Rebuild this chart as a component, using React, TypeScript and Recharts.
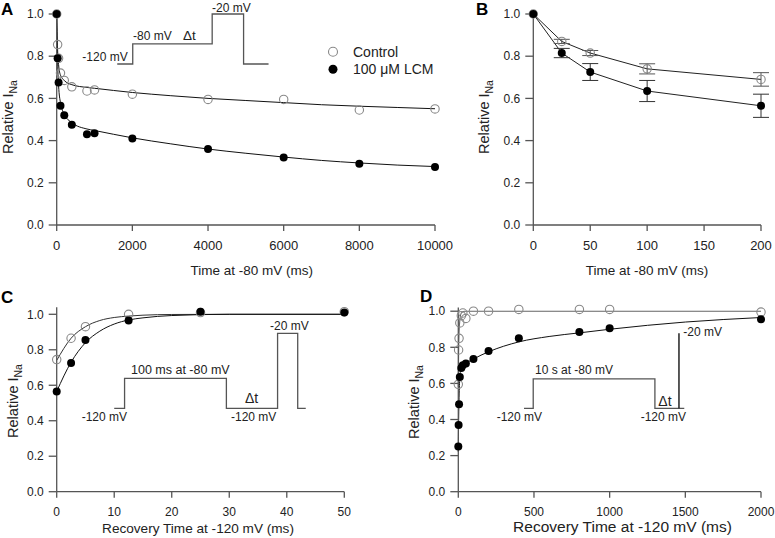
import { ComposedChart, ErrorBar, Line, Scatter, XAxis, YAxis } from "recharts";

const FONT = '"Liberation Sans", Arial, sans-serif';
const W = 775;
const H = 538;

// ---- Panel A: development of inactivation at -80 mV ----
const aTicks = [0, 2000, 4000, 6000, 8000, 10000];
const aTime = [0, 25, 50, 100, 200, 400, 800, 1000, 2000, 4000, 6000, 8000, 10000];
const aControl = [1.0, 0.855, 0.79, 0.72, 0.685, 0.655, 0.635, 0.64, 0.62, 0.595, 0.595, 0.545, 0.55];
const aLcm = [1.0, 0.79, 0.675, 0.565, 0.52, 0.475, 0.43, 0.435, 0.41, 0.36, 0.32, 0.29, 0.275];
const aFitTime = [0, 20, 50, 100, 200, 400, 800, 1000, 2000, 3000, 4000, 5000, 6000, 7000, 8000, 9000, 10000];
const aFitControl = [1.0, 0.85, 0.76, 0.71, 0.685, 0.665, 0.652, 0.648, 0.628, 0.613, 0.6, 0.59, 0.58, 0.57, 0.563, 0.557, 0.551];
const aFitLcm = [1.0, 0.8, 0.66, 0.58, 0.525, 0.485, 0.455, 0.448, 0.413, 0.385, 0.36, 0.34, 0.322, 0.306, 0.294, 0.284, 0.277];
const aProtoX = [1600, 2010, 2010, 4110, 4110, 4940, 4940, 5600];
const aProtoY = [0.763, 0.763, 0.858, 0.858, 1.0, 1.0, 0.763, 0.763];

// ---- Panel B: short pulses ----
const bTicks = [0, 50, 100, 150, 200];
const bTime = [0, 25, 50, 100, 200];
const bControl = [1.0, 0.87, 0.815, 0.74, 0.69];
const bControlErr = [0, 0.01, 0.012, 0.024, 0.032];
const bLcm = [1.0, 0.815, 0.725, 0.635, 0.565];
const bLcmErr = [0, 0.022, 0.04, 0.05, 0.055];

// ---- Panel C: recovery after 100 ms at -80 mV ----
const cTicks = [0, 10, 20, 30, 40, 50];
const cTime = [0, 2.5, 5, 12.5, 25, 50];
const cControl = [0.745, 0.865, 0.93, 1.0, 1.01, 1.015];
const cLcm = [0.565, 0.725, 0.855, 0.965, 1.015, 1.01];
const cFitTime = [0, 2.5, 5, 7.5, 10, 12.5, 15, 20, 30, 50];
const cFitControl = [0.74, 0.865, 0.93, 0.965, 0.982, 0.99, 0.995, 0.999, 1.0, 1.0];
const cFitLcm = [0.565, 0.73, 0.84, 0.905, 0.945, 0.968, 0.98, 0.993, 1.0, 1.0];
const cProtoX = [10, 11.8, 11.8, 29.5, 29.5, 38.4, 38.4, 41.9, 41.9, 43.3];
const cProtoY = [0.47, 0.47, 0.639, 0.639, 0.47, 0.47, 0.893, 0.893, 0.47, 0.47];

// ---- Panel D: recovery after 10 s at -80 mV ----
const dTicks = [0, 500, 1000, 1500, 2000];
const dTime = [0, 2, 5, 10, 20, 30, 50, 100, 200, 400, 800, 1000, 2000];
const dControl = [0.595, 0.785, 0.85, 0.935, 0.975, 0.99, 0.96, 1.0, 1.0, 1.01, 1.01, 1.01, 0.995];
const dLcm = [0.25, 0.37, 0.485, 0.635, 0.685, 0.7, 0.71, 0.735, 0.78, 0.85, 0.885, 0.905, 0.955];
const dFitControlTime = [0, 2, 5, 10, 20, 40, 100, 2000];
const dFitControl = [0.58, 0.76, 0.88, 0.95, 0.99, 1.0, 1.0, 1.0];
const dFitLcmTime = [0, 2, 5, 10, 15, 25, 50, 100, 200, 400, 600, 800, 1000, 1500, 2000];
const dFitLcm = [0.22, 0.38, 0.52, 0.63, 0.67, 0.69, 0.71, 0.735, 0.775, 0.83, 0.86, 0.88, 0.9, 0.94, 0.965];
const dProtoX = [434, 495, 495, 1299, 1299, 1493];
const dProtoY = [0.462, 0.462, 0.625, 0.625, 0.462, 0.462];
const dStepX = [1458, 1458];
const dStepY = [0.462, 0.878];

const yTicks = [0, 0.2, 0.4, 0.6, 0.8, 1.0];

const zip = (xs: number[], ys: number[], errs?: number[]) =>
  xs.map((x, i) => ({ x, y: ys[i], err: errs ? errs[i] : 0 }));

const axisStroke = { stroke: "#555", strokeWidth: 1.3 };
const xTick = (size: number) => ({ fontSize: size, fill: "#222", fontFamily: FONT });
const yTick = { fontSize: 12, fill: "#222", fontFamily: FONT };

const openDot = (p: any) => (
  <circle cx={p.cx} cy={p.cy} r={4.2} fill="none" stroke="#888" strokeWidth={1.1} />
);
const filledDot = (p: any) => <circle cx={p.cx} cy={p.cy} r={4} fill="#000" />;

function YTitle({ x, y }: { x: number; y: number }) {
  return (
    <text transform={`translate(${x},${y}) rotate(-90)`} textAnchor="middle" fontSize={14.5} fontFamily={FONT} fill="#222">
      Relative I
      <tspan dy={4} fontSize={10.5}>
        Na
      </tspan>
    </text>
  );
}

const pos = { position: "absolute" as const, left: 0, top: 0 };

export default function App() {
  return (
    <div style={{ ...pos, width: W, height: H, background: "#fff" }}>
      {/* A */}
      <div style={pos}>
        <ComposedChart width={W} height={H} margin={{ top: 14, right: W - 435, bottom: H - 225 - 40, left: 0 }}>
          <XAxis type="number" dataKey="x" domain={[0, 10000]} ticks={aTicks} interval={0}
            height={40} tickSize={6} tickMargin={10} axisLine={axisStroke} tickLine={axisStroke} tick={xTick(13)} />
          <YAxis type="number" dataKey="y" domain={[0, 1]} ticks={yTicks} interval={0} width={56.7}
            tickSize={8} tickMargin={5} axisLine={axisStroke} tickLine={axisStroke} tick={yTick}
            tickFormatter={(v: number) => v.toFixed(1)} />
          <Line data={zip(aProtoX, aProtoY)} dataKey="y" type="linear" stroke="#555" strokeWidth={1.3} dot={false} isAnimationActive={false} />
          <Line data={zip(aFitTime, aFitControl)} dataKey="y" type="monotone" stroke="#111" strokeWidth={1} dot={false} isAnimationActive={false} />
          <Line data={zip(aFitTime, aFitLcm)} dataKey="y" type="monotone" stroke="#111" strokeWidth={1} dot={false} isAnimationActive={false} />
          <Scatter data={zip(aTime, aControl)} dataKey="y" shape={openDot} isAnimationActive={false} />
          <Scatter data={zip(aTime, aLcm)} dataKey="y" shape={filledDot} isAnimationActive={false} />
        </ComposedChart>
      </div>

      {/* B */}
      <div style={pos}>
        <ComposedChart width={W} height={H} margin={{ top: 14, right: W - 761, bottom: H - 225 - 40, left: 0 }}>
          <XAxis type="number" dataKey="x" domain={[0, 200]} ticks={bTicks} interval={0}
            height={40} tickSize={6} tickMargin={10} axisLine={axisStroke} tickLine={axisStroke} tick={xTick(13)} />
          <YAxis type="number" dataKey="y" domain={[0, 1]} ticks={yTicks} interval={0} width={533.3}
            tickSize={8} tickMargin={5} axisLine={axisStroke} tickLine={axisStroke} tick={yTick}
            tickFormatter={(v: number) => v.toFixed(1)} />
          <Line data={zip(bTime, bControl)} dataKey="y" type="linear" stroke="#222" strokeWidth={1} dot={false} isAnimationActive={false} />
          <Line data={zip(bTime, bLcm)} dataKey="y" type="linear" stroke="#222" strokeWidth={1} dot={false} isAnimationActive={false} />
          <Scatter data={zip(bTime, bControl, bControlErr)} dataKey="y" shape={openDot} isAnimationActive={false}>
            <ErrorBar dataKey="err" direction="y" width={8} stroke="#555" strokeWidth={1} />
          </Scatter>
          <Scatter data={zip(bTime, bLcm, bLcmErr)} dataKey="y" shape={filledDot} isAnimationActive={false}>
            <ErrorBar dataKey="err" direction="y" width={8} stroke="#333" strokeWidth={1} />
          </Scatter>
        </ComposedChart>
      </div>

      {/* C */}
      <div style={pos}>
        <ComposedChart width={W} height={H} margin={{ top: 307.2, right: W - 344.3, bottom: H - 491.7 - 40, left: 0 }}>
          <XAxis type="number" dataKey="x" domain={[0, 50]} ticks={cTicks} interval={0}
            height={40} tickSize={6} tickMargin={10} axisLine={axisStroke} tickLine={axisStroke} tick={xTick(12)} />
          <YAxis type="number" dataKey="y" domain={[0, 1.04]} ticks={yTicks} interval={0} width={56.7}
            tickSize={8} tickMargin={5} axisLine={axisStroke} tickLine={axisStroke} tick={yTick}
            tickFormatter={(v: number) => v.toFixed(1)} />
          <Line data={zip(cProtoX, cProtoY)} dataKey="y" type="linear" stroke="#555" strokeWidth={1.3} dot={false} isAnimationActive={false} />
          <Line data={zip(cFitTime, cFitControl)} dataKey="y" type="monotone" stroke="#333" strokeWidth={1} dot={false} isAnimationActive={false} />
          <Line data={zip(cFitTime, cFitLcm)} dataKey="y" type="monotone" stroke="#111" strokeWidth={1} dot={false} isAnimationActive={false} />
          <Scatter data={zip(cTime, cControl)} dataKey="y" shape={openDot} isAnimationActive={false} />
          <Scatter data={zip(cTime, cLcm)} dataKey="y" shape={filledDot} isAnimationActive={false} />
        </ComposedChart>
      </div>

      {/* D */}
      <div style={pos}>
        <ComposedChart width={W} height={H} margin={{ top: 307.6, right: W - 761, bottom: H - 491.7 - 40, left: 0 }}>
          <XAxis type="number" dataKey="x" domain={[0, 2000]} ticks={dTicks} interval={0}
            height={40} tickSize={6} tickMargin={10} axisLine={axisStroke} tickLine={axisStroke} tick={xTick(12)} />
          <YAxis type="number" dataKey="y" domain={[0, 1.02]} ticks={yTicks} interval={0} width={458.3}
            tickSize={8} tickMargin={5} axisLine={axisStroke} tickLine={axisStroke} tick={yTick}
            tickFormatter={(v: number) => v.toFixed(1)} />
          <Line data={zip(dProtoX, dProtoY)} dataKey="y" type="linear" stroke="#555" strokeWidth={1.3} dot={false} isAnimationActive={false} />
          <Line data={zip(dStepX, dStepY)} dataKey="y" type="linear" stroke="#000" strokeWidth={1.3} dot={false} isAnimationActive={false} />
          <Line data={zip(dFitControlTime, dFitControl)} dataKey="y" type="monotone" stroke="#666" strokeWidth={1.1} dot={false} isAnimationActive={false} />
          <Line data={zip(dFitLcmTime, dFitLcm)} dataKey="y" type="monotone" stroke="#111" strokeWidth={1} dot={false} isAnimationActive={false} />
          <Scatter data={zip(dTime, dControl)} dataKey="y" shape={openDot} isAnimationActive={false} />
          <Scatter data={zip(dTime, dLcm)} dataKey="y" shape={filledDot} isAnimationActive={false} />
        </ComposedChart>
      </div>

      {/* titles, panel letters, legend and protocol labels */}
      <svg width={W} height={H} style={{ ...pos, pointerEvents: "none" }} fontFamily={FONT} fill="#222">
        <g fontSize={17} fontWeight="bold" fill="#000">
          <text x={1} y={15}>A</text>
          <text x={476} y={15}>B</text>
          <text x={1} y={303}>C</text>
          <text x={420} y={302}>D</text>
        </g>
        <YTitle x={12.5} y={117} />
        <YTitle x={489} y={117} />
        <YTitle x={18} y={401} />
        <YTitle x={419} y={402} />
        <text x={251.7} y={275} textAnchor="middle" fontSize={13.5}>Time at -80 mV (ms)</text>
        <text x={647} y={275} textAnchor="middle" fontSize={13.5}>Time at -80 mV (ms)</text>
        <text x={198} y={533} textAnchor="middle" fontSize={13.6}>Recovery Time at -120 mV (ms)</text>
        <text x={622.5} y={532} textAnchor="middle" fontSize={15.5}>Recovery Time at -120 mV (ms)</text>

        {/* legend */}
        <circle cx={333} cy={51.7} r={4.5} fill="none" stroke="#888" strokeWidth={1.1} />
        <text x={353} y={56.7} fontSize={14}>Control</text>
        <circle cx={333} cy={69.3} r={4.5} fill="#000" />
        <text x={353} y={74.3} fontSize={14}>100 {"\u03bc"}M LCM</text>

        {/* protocol labels */}
        <g fontSize={12}>
          <text x={127.7} y={61.2} textAnchor="end">-120 mV</text>
          <text x={133} y={39.5}>-80 mV</text>
          <text x={183} y={39.5} fontSize={13.5}>{"\u0394"}t</text>
          <text x={212} y={11.5}>-20 mV</text>

          <text x={131} y={373.6} fontSize={12.5}>100 ms at -80 mV</text>
          <text x={81.7} y={421}>-120 mV</text>
          <text x={245} y={403} fontSize={14}>{"\u0394"}t</text>
          <text x={231} y={421}>-120 mV</text>
          <text x={270} y={329.5}>-20 mV</text>

          <text x={535} y={373.6}>10 s at -80 mV</text>
          <text x={496.7} y={421}>-120 mV</text>
          <text x={658.3} y={406} fontSize={14}>{"\u0394"}t</text>
          <text x={640.7} y={421}>-120 mV</text>
          <text x={683.3} y={336}>-20 mV</text>
        </g>
      </svg>
    </div>
  );
}
